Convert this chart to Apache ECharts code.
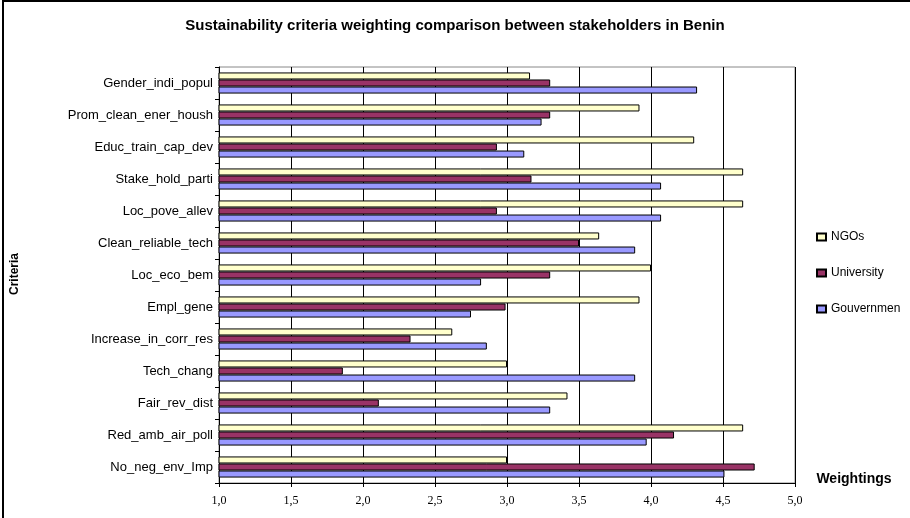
<!DOCTYPE html>
<html><head><meta charset="utf-8">
<script src="https://cdn.jsdelivr.net/npm/echarts@6/dist/echarts.min.js"></script>
<style>html,body{margin:0;padding:0;background:#fff}#c{width:910px;height:518px}</style>
</head><body><div id="c"></div>
<script>
const categories = ['No_neg_env_Imp','Red_amb_air_poll','Fair_rev_dist','Tech_chang','Increase_in_corr_res','Empl_gene','Loc_eco_bem','Clean_reliable_tech','Loc_pove_allev','Stake_hold_parti','Educ_train_cap_dev','Prom_clean_ener_housh','Gender_indi_popul'];
const gouvernment = [4.51, 3.97, 3.30, 3.89, 2.86, 2.75, 2.82, 3.89, 4.07, 4.07, 3.12, 3.24, 4.32];
const university  = [4.72, 4.16, 2.11, 1.86, 2.33, 2.99, 3.30, 3.50, 2.93, 3.17, 2.93, 3.30, 3.30];
const ngos        = [3.00, 4.64, 3.42, 3.00, 2.62, 3.92, 4.00, 3.64, 4.64, 4.64, 4.30, 3.92, 3.16];
const xTickLabels = ['1,0','1,5','2,0','2,5','3,0','3,5','4,0','4,5','5,0'];

const chart = echarts.init(document.getElementById('c'));
const bar = (name, data, color) => ({
  name, type: 'bar', data, barGap: 0, barCategoryGap: '34%',
  itemStyle: { color, borderColor: '#000', borderWidth: 1 },
  emphasis: { disabled: true }
});
chart.setOption({
  animation: false,
  title: {
    text: 'Sustainability criteria weighting comparison between stakeholders in Benin',
    left: 'center', top: 13,
    textStyle: { fontFamily: 'Liberation Sans', fontSize: 15, fontWeight: 'bold', color: '#000' }
  },
  legend: {
    orient: 'vertical', left: 811, top: 226,
    data: ['NGOs', 'University', 'Gouvernment'],
    itemWidth: 9, itemHeight: 7, itemGap: 24,
    icon: 'rect',
    textStyle: { fontFamily: 'Liberation Sans', fontSize: 12, color: '#000', width: 72.5, overflow: 'truncate', ellipsis: '' }
  },
  grid: { left: 219, right: 115, top: 67, bottom: 35, show: true, borderColor: '#888', borderWidth: 1, backgroundColor: 'transparent' },
  xAxis: {
    type: 'value', min: 1, max: 5, interval: 0.5,
    axisLine: { show: true, lineStyle: { color: '#000', width: 1 } },
    axisTick: { show: true, inside: false, length: 4, lineStyle: { color: '#000' } },
    splitLine: { show: true, lineStyle: { color: '#000', width: 1 } },
    axisLabel: {
      margin: 12, color: '#000', fontFamily: 'Liberation Serif', fontSize: 12,
      formatter: v => xTickLabels[Math.round((v - 1) / 0.5)]
    }
  },
  yAxis: {
    type: 'category', data: categories,
    axisLine: { show: true, lineStyle: { color: '#000', width: 1 } },
    axisTick: { show: true, length: 4, lineStyle: { color: '#000' } },
    axisLabel: { margin: 6, color: '#000', fontFamily: 'Liberation Sans', fontSize: 13 }
  },
  series: [
    bar('NGOs', ngos, '#FFFFCC'),
    bar('University', university, '#993366'),
    bar('Gouvernment', gouvernment, '#9999FF')
  ],
  graphic: [
    { type: 'rect', shape: { x: 3, y: 1, width: 930, height: 540 }, style: { fill: 'none', stroke: '#000', lineWidth: 2 }, silent: true },
    { type: 'text', x: 15, y: 274, rotation: Math.PI / 2, style: { text: 'Criteria', fontFamily: 'Liberation Sans', fontSize: 12, fontWeight: 'bold', fill: '#000', align: 'center', verticalAlign: 'middle' } },
    { type: 'text', x: 854, y: 479, style: { text: 'Weightings', fontFamily: 'Liberation Sans', fontSize: 14, fontWeight: 'bold', fill: '#000', align: 'center', verticalAlign: 'middle' } }
  ]
});
</script></body></html>
